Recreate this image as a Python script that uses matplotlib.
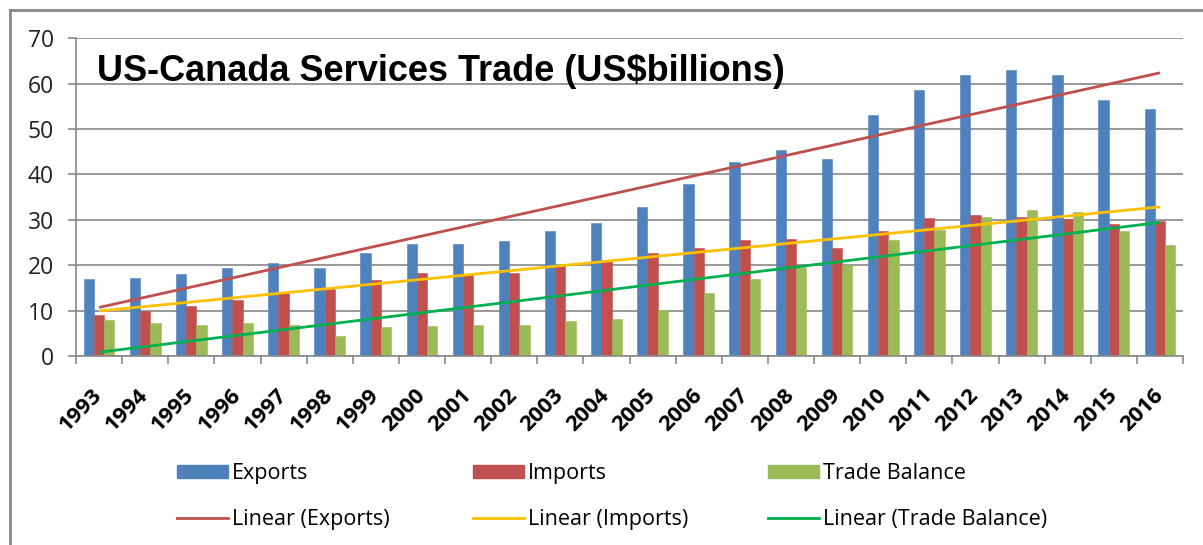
import numpy as np
import matplotlib
matplotlib.use("Agg")
import matplotlib.pyplot as plt
from matplotlib.lines import Line2D
from matplotlib.patches import Patch

# US-Canada services trade, US$ billions
years = [str(y) for y in range(1993, 2017)]
exports = [16.9, 17.2, 18.0, 19.3, 20.4, 19.3, 22.8, 24.7, 24.7, 25.3, 27.5, 29.4,
           32.9, 37.8, 42.7, 45.3, 43.5, 53.0, 58.5, 62.0, 63.1, 62.0, 56.5, 54.4]
imports = [9.0, 9.9, 11.0, 12.3, 13.8, 14.7, 16.7, 18.2, 17.8, 18.2, 20.0, 21.2,
           22.6, 23.9, 25.6, 25.8, 23.7, 27.5, 30.5, 31.0, 30.7, 30.2, 29.1, 29.7]
balance = [7.9, 7.2, 6.8, 7.2, 6.8, 4.5, 6.3, 6.6, 6.8, 6.8, 7.7, 8.2,
           10.1, 13.9, 16.9, 19.5, 20.0, 25.6, 27.8, 30.7, 32.1, 31.8, 27.5, 24.5]

series = [
    ("Exports", exports, "#4F81BD", "#C0504D"),
    ("Imports", imports, "#C0504D", "#FFC000"),
    ("Trade Balance", balance, "#9BBB59", "#00B050"),
]

W, H = 1203, 545
fig = plt.figure(figsize=(W / 100, H / 100), dpi=100)
ax = fig.add_axes([76 / W, 1 - 356 / H, (1183 - 76) / W, (356 - 38.3) / H])

x = np.arange(len(years))
bw = 0.222
handles = []
for i, (name, vals, bar_c, line_c) in enumerate(series):
    ax.bar(x + (i - 1) * bw, vals, width=bw, color=bar_c, edgecolor=bar_c,
           linewidth=0.4, zorder=2)
    # linear trendline
    k, b = np.polyfit(x, vals, 1)
    ax.plot(x, k * x + b, color=line_c, lw=2, zorder=3, solid_capstyle="butt")
    handles.append((Patch(facecolor=bar_c, edgecolor=bar_c, label=name),
                    Line2D([], [], color=line_c, lw=2, label=f"Linear ({name})")))

ax.set_xlim(-0.5, len(years) - 0.5)
ax.set_ylim(0, 70)
ax.set_yticks(range(0, 71, 10))
ax.yaxis.grid(True, color="#888888", lw=1.2, zorder=0)
ax.set_axisbelow(True)
for s in ["top", "right"]:
    ax.spines[s].set_visible(False)
for s in ["left", "bottom"]:
    ax.spines[s].set_color("#888888")
    ax.spines[s].set_linewidth(1.2)

ax.tick_params(axis="y", length=6, width=1.2, color="#888888", pad=10,
               labelsize=16.5, labelcolor="#222222")
for lab in ax.get_yticklabels():
    lab.set_family("Open Sans")

# category labels in the middle, tick marks between categories
ax.set_xticks(x)
ax.set_xticks(np.arange(-0.5, len(years), 1), minor=True)
ax.tick_params(axis="x", which="major", length=0, pad=26)
ax.tick_params(axis="x", which="minor", length=6, width=1.2, color="#888888")
ax.set_xticklabels(years, rotation=45, ha="right", va="center",
                   rotation_mode="anchor", fontsize=16, fontweight="bold",
                   family="Open Sans")

ax.text(0.019, 60.6, "US-Canada Services Trade (US$billions)",
        transform=ax.get_yaxis_transform(), va="baseline", ha="left",
        fontsize=26, fontweight="bold", family="Liberation Sans", zorder=5)

# legend: one column per series
col_x = [177, 473, 768]
for cx, pair in zip(col_x, handles):
    fig.legend(handles=list(pair), loc="upper left",
               bbox_to_anchor=(cx / W, 1 - 463 / H), frameon=False,
               borderpad=0, borderaxespad=0, handlelength=2.35,
               handleheight=0.6, handletextpad=0.2, labelspacing=1.15,
               prop={"family": "Open Sans", "size": 15.5})

# outer chart frame
fig.add_artist(Line2D([10 / W, 10 / W], [0, 1 - 10 / H], color="#888888",
                      lw=2, transform=fig.transFigure))
fig.add_artist(Line2D([10 / W, 1], [1 - 10 / H, 1 - 10 / H], color="#888888",
                      lw=2, transform=fig.transFigure))

fig.savefig("out.png", dpi=100)
